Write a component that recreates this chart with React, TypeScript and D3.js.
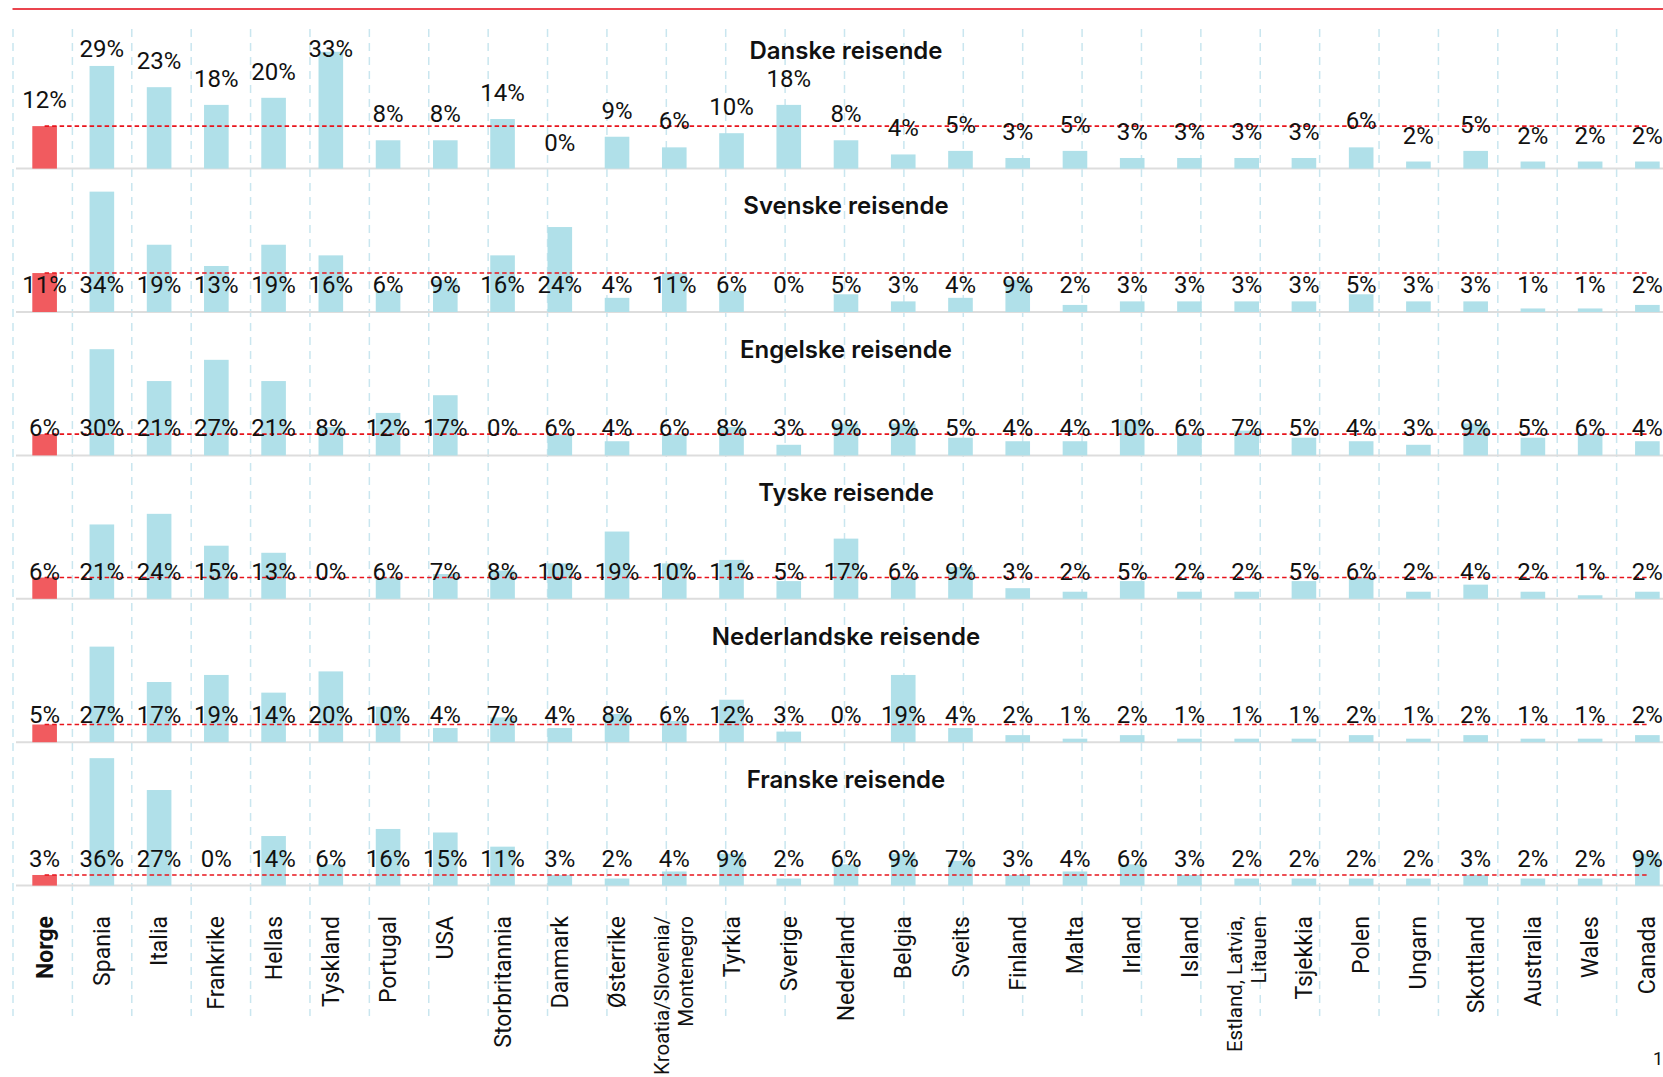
import React from 'react';
import * as d3 from 'd3';

const countries = ["Norge","Spania","Italia","Frankrike","Hellas","Tyskland","Portugal","USA","Storbritannia","Danmark","Østerrike","Kroatia/Slovenia/|Montenegro","Tyrkia","Sverige","Nederland","Belgia","Sveits","Finland","Malta","Irland","Island","Estland, Latvia,|Litauen","Tsjekkia","Polen","Ungarn","Skottland","Australia","Wales","Canada"];

const panelTitles = ["Danske reisende","Svenske reisende","Engelske reisende","Tyske reisende","Nederlandske reisende","Franske reisende"];

const danske = [12,29,23,18,20,33,8,8,14,0,9,6,10,18,8,4,5,3,5,3,3,3,3,6,2,5,2,2,2];
const svenske = [11,34,19,13,19,16,6,9,16,24,4,11,6,0,5,3,4,9,2,3,3,3,3,5,3,3,1,1,2];
const engelske = [6,30,21,27,21,8,12,17,0,6,4,6,8,3,9,9,5,4,4,10,6,7,5,4,3,9,5,6,4];
const tyske = [6,21,24,15,13,0,6,7,8,10,19,10,11,5,17,6,9,3,2,5,2,2,5,6,2,4,2,1,2];
const nederlandske = [5,27,17,19,14,20,10,4,7,4,8,6,12,3,0,19,4,2,1,2,1,1,1,2,1,2,1,1,2];
const franske = [3,36,27,0,14,6,16,15,11,3,2,4,9,2,6,9,7,3,4,6,3,2,2,2,2,3,2,2,9];

const series = [danske, svenske, engelske, tyske, nederlandske, franske];

const W = 1663, H = 1077;
const FONT = "Roboto, 'Liberation Sans', Arial, sans-serif";
const TITLE_FONT = "Inter, Roboto, sans-serif";

export default function App() {
  const x = d3.scaleBand<string>().domain(countries).range([16, 1676]).paddingInner(0.57).paddingOuter(0.285);
  const grid = d3.scalePoint<string>().domain(countries).range([13, 1676]);
  const panelY = d3.scalePoint<string>().domain(panelTitles).range([168.6, 168.6 + 5 * 143.4]);
  const y = d3.scaleLinear().domain([0, 40]).range([0, 141.6]);
  const bw = x.bandwidth();
  const cx = (c: string) => (x(c) as number) + bw / 2;

  return (
    <svg width={W} height={H} style={{ position: 'absolute', left: 0, top: 0, background: '#fff' }} fontFamily={FONT}>
      <rect x={0} y={0} width={W} height={H} fill="#fff" />
      <line x1={12.5} x2={W} y1={9} y2={9} stroke="#e30613" strokeWidth={1.6} />
      {countries.map((c) => (
        <line key={'g' + c} x1={grid(c)} x2={grid(c)} y1={29} y2={1016} stroke="#c9e6ef" strokeWidth={1.5} strokeDasharray="8,6" />
      ))}
      {panelTitles.map((t, pi) => {
        const base = panelY(t) as number;
        const vals = series[pi];
        const normY = base - y(vals[0]);
        return (
          <g key={t}>
            <line x1={16} x2={W} y1={base} y2={base} stroke="#dddddd" strokeWidth={2} />
            {countries.map((c, i) => (
              <rect key={c} x={x(c)} y={base - y(vals[i])} width={bw} height={y(vals[i])}
                fill={i === 0 ? '#f15b5f' : '#b0e0e9'} />
            ))}
            <line x1={cx(countries[0])} x2={cx(countries[countries.length - 1])} y1={normY} y2={normY}
              stroke="#e8141c" strokeWidth={1.6} strokeDasharray="4.5,3" />
            <text x={846} y={pi === 0 ? base - 109.5 : base - 97.7} textAnchor="middle" fontFamily={TITLE_FONT} fontSize={24} fontWeight={600} fill="#111">{t}</text>
            {countries.map((c, i) => {
              const ly = pi === 0 ? Math.max(base - y(vals[i]) - 18, base - 112) : base - 19;
              return (
                <text key={'l' + c} x={cx(c)} y={ly} textAnchor="middle" fontSize={24} fill="#111">{vals[i] + '%'}</text>
              );
            })}
          </g>
        );
      })}
      {countries.map((c, i) => {
        const lines = c.split('|');
        const fs = lines.length > 1 ? 20.5 : 23;
        return (
          <g key={'a' + c} transform={`translate(${cx(c)},916) rotate(-90)`}>
            {lines.map((ln, li) => (
              <text key={li} x={0} y={(li - (lines.length - 1) / 2) * 24} dy="0.35em" textAnchor="end"
                fontSize={fs} fontWeight={i === 0 ? 700 : 400} fill="#111">{ln}</text>
            ))}
          </g>
        );
      })}
      <text x={1653} y={1065} fontSize={18} fill="#111">1</text>
    </svg>
  );
}
